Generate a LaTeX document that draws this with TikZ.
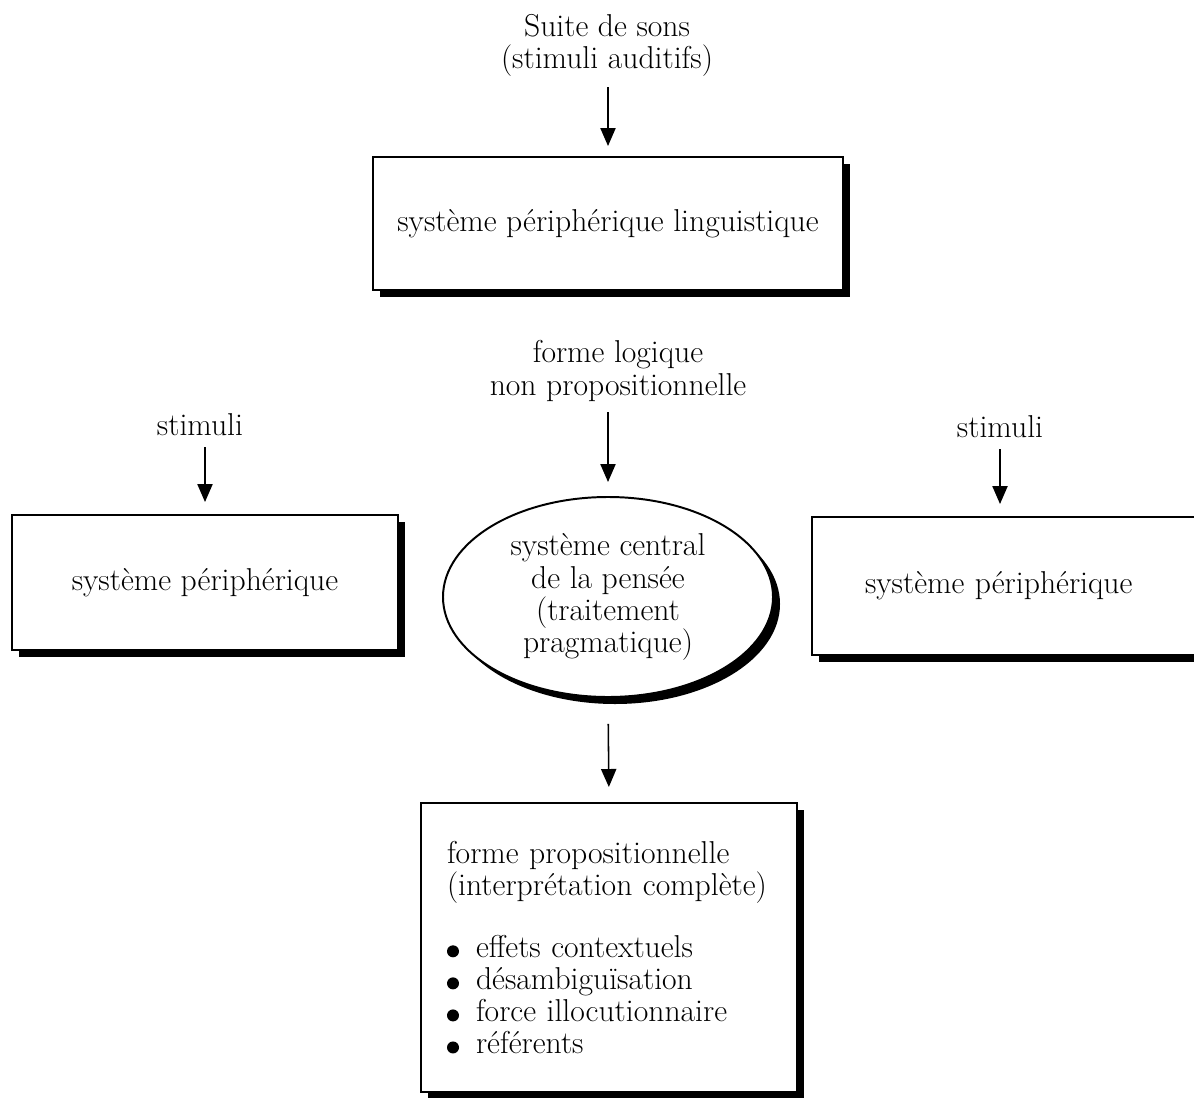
\documentclass[tikz,border=0pt]{standalone}
\usepackage{fontspec}
\usetikzlibrary{arrows.meta,shapes.geometric,shadows}

\newcommand\puce{\makebox[7.25mm][l]{\tikz[baseline=-0.45ex]\fill (0,0) circle (1.5mm);}}

\begin{document}
\begin{tikzpicture}[
    x=0.25mm, y=-0.25mm,
    every node/.style={font=\fontsize{22.5}{22.8}\selectfont, inner sep=2pt, align=center},
    ombre/.style={drop shadow={shadow xshift=1.75mm, shadow yshift=-1.75mm, fill=black, opacity=1}},
    boite/.style={draw, line width=1.4pt, fill=white, ombre},
    fleche/.style={-{Triangle[length=4.5mm, width=3.8mm]}, line width=1.1pt}
]
    \clip (0,0) rectangle (1194,1098);
    \useasboundingbox (0,0) rectangle (1194,1098);

    % entrees
    \node (suite) at (607,45) {Suite de sons\\(stimuli auditifs)};
    \node (forme) at (618,371) {forme logique\\non propositionnelle};
    \node (stimg) at (200,425) {stimuli};
    \node (stimd) at (1000,427) {stimuli};

    % systemes
    \node [boite, minimum width=117.5mm, minimum height=33.25mm] (ling) at (608,223.5)
        {système périphérique linguistique};
    \node [boite, minimum width=96.5mm, minimum height=33.75mm] (perig) at (205,582.5)
        {système périphérique};
    \node [boite, minimum width=96.5mm, minimum height=34.5mm, text width=70mm, inner xsep=13.25mm, align=left] (perid) at (1005,586)
        {système périphérique};
    \node [boite, ellipse, inner sep=0pt, minimum width=82.5mm, minimum height=50mm] (central) at (608,597)
        {système central\\de la pensée\\(traitement\\pragmatique)};
    \node [boite, minimum width=94mm, minimum height=72.25mm, text width=81mm, inner xsep=6.5mm, align=left] (prop) at (609,947.5)
        {forme propositionnelle\\(interprétation complète)\\[7.5mm]
         \puce effets contextuels\\
         \puce désambiguïsation\\
         \puce force illocutionnaire\\
         \puce référents};

    % fleches
    \draw [fleche, shorten <=2mm, shorten >=2.5mm] (suite.south -| ling.north) -- (ling.north);
    \draw [fleche, shorten <=2mm, shorten >=3.5mm] (forme.south -| central.north) -- (central.north);
    \draw [fleche, shorten <=2mm, shorten >=3mm] (stimg.south -| perig.north) -- (perig.north);
    \draw [fleche, shorten <=2mm, shorten >=3mm] (stimd.south) -- (stimd.south |- perid.north);
    \draw [fleche, shorten <=6.5mm, shorten >=3.75mm] (central.south) -- (prop.north);
\end{tikzpicture}
\end{document}
